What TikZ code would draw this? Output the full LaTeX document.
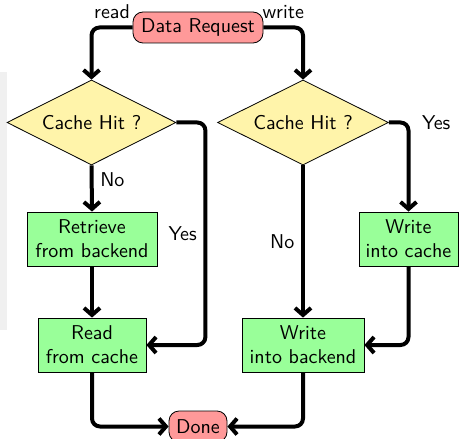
\documentclass[tikz,border=0pt]{standalone}
\usetikzlibrary{shapes.geometric,arrows.meta}
\definecolor{reqred}{RGB}{255,153,153}
\definecolor{decyellow}{RGB}{255,244,170}
\definecolor{procgreen}{RGB}{153,255,153}
\begin{document}
\begin{tikzpicture}[x=0.5pt,y=-0.5pt,font=\sffamily,
  terminal/.style={draw, rounded corners=5pt, fill=reqred, minimum height=15.5pt, inner sep=0pt},
  decision/.style={diamond, draw, fill=decyellow, aspect=2, inner sep=0pt},
  process/.style={draw, fill=procgreen, minimum height=27pt, align=center, inner sep=0pt},
  flow/.style={line width=2pt, rounded corners=4pt, line join=round, -{Straight Barb[length=3.5pt,width=8pt]}}]
\useasboundingbox (0,0) rectangle (459,438);
% faint shadow strip at left
\fill[gray!12] (0,72) rectangle (7,330);
\node[terminal, minimum width=65pt] (req) at (198,27.5) {Data Request};
\node[decision, minimum width=84.5pt, minimum height=42.5pt] (d1) at (91.5,122.5) {Cache Hit ?};
\node[decision, minimum width=85.5pt, minimum height=42.5pt] (d2) at (303,122.5) {Cache Hit ?};
\node[process, minimum width=65pt] (ret) at (92,239) {Retrieve\\from backend};
\node[process, minimum width=49.5pt] (wc) at (408.5,239) {Write\\into cache};
\node[process, minimum width=54pt] (rc) at (92,345) {Read\\from cache};
\node[process, minimum width=61pt] (wb) at (303,345) {Write\\into backend};
\node[terminal, minimum width=29pt] (done) at (198,426.5) {Done};
\draw[flow] (req.west) -| node[pos=0.25,above]{read} (d1.north);
\draw[flow] (req.east) -| node[pos=0.25,above]{write} (d2.north);
\draw[flow] (d1.south) -- node[pos=0.3,right]{No} (ret.north);
\draw[flow] (ret.south) -- (rc.north);
\draw[flow] (d1.east) -- ++(14.5pt,0) |- node[pos=0.25,left]{Yes} (rc.east);
\draw[flow] (d2.east) -| node[pos=0.5,right,xshift=2.5pt]{Yes} (wc.north);
\draw[flow] (d2.south) -- node[pos=0.5,left]{No} (wb.north);
\draw[flow] (wc.south) |- (wb.east);
\draw[flow] (rc.south) |- (done.west);
\draw[flow] (wb.south) |- (done.east);
\end{tikzpicture}
\end{document}
